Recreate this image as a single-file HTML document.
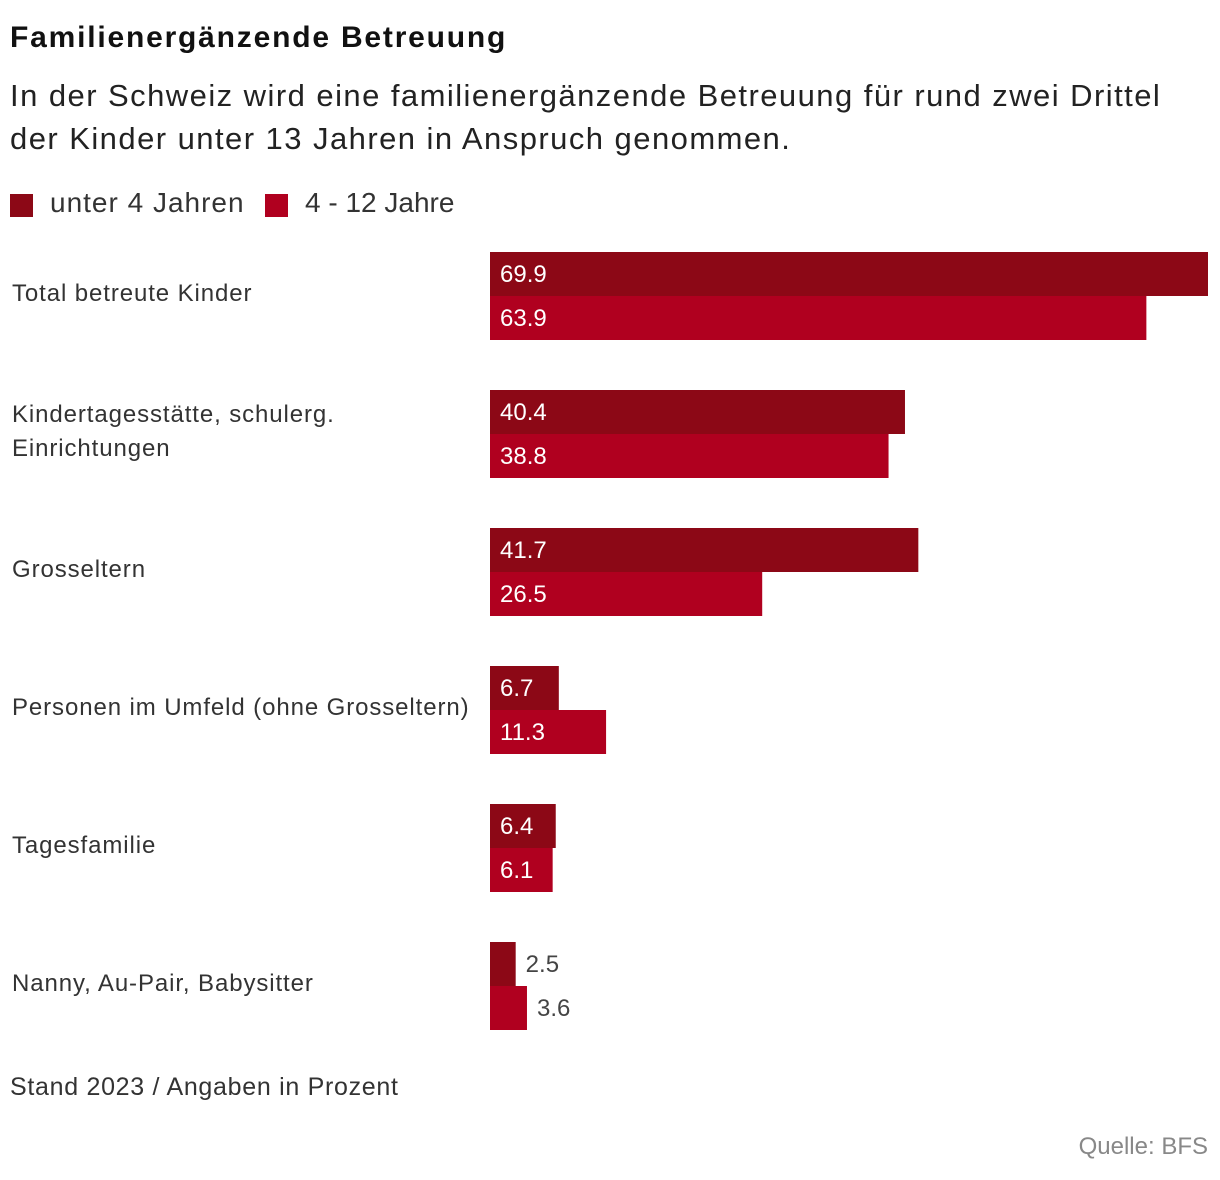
<!DOCTYPE html>
<html><head><meta charset="utf-8"><style>
body{margin:0;width:1220px;height:1180px;background:#fff;font-family:"Liberation Sans",sans-serif;color:#333;position:relative;overflow:hidden}
.t{position:absolute;white-space:nowrap}
</style></head><body>
<div class="t" style="left:10px;top:21px;font-size:30px;font-weight:bold;color:#111;letter-spacing:1.8px">Familienergänzende Betreuung</div>
<div class="t" style="left:10px;top:74px;font-size:31px;line-height:43px;color:#222;letter-spacing:1.45px">In der Schweiz wird eine familienergänzende Betreuung für rund zwei Drittel<br>der Kinder unter 13 Jahren in Anspruch genommen.</div>
<div>
<div style="position:absolute;left:10px;top:194px;width:23px;height:23px;background:#8c0816"></div>
<div class="t" style="left:50px;top:187px;font-size:28px;letter-spacing:1px">unter 4 Jahren</div>
<div style="position:absolute;left:265px;top:194px;width:23px;height:23px;background:#b0001f"></div>
<div class="t" style="left:305px;top:187px;font-size:28px">4 - 12 Jahre</div>
</div>
<svg id="chart" width="1220" height="1180" style="position:absolute;left:0;top:0" font-family="Liberation Sans, sans-serif"></svg>
<div class="t" style="left:10px;top:1073px;font-size:25px;letter-spacing:0.7px">Stand 2023 / Angaben in Prozent</div>
<div class="t" style="right:12px;top:1133px;font-size:24px;color:#888">Quelle: BFS</div>
<script>
const categories=[["Total betreute Kinder"],["Kindertagesstätte, schulerg.","Einrichtungen"],["Grosseltern"],["Personen im Umfeld (ohne Grosseltern)"],["Tagesfamilie"],["Nanny, Au-Pair, Babysitter"]];
const under4=[69.9,40.4,41.7,6.7,6.4,2.5];
const age4to12=[63.9,38.8,26.5,11.3,6.1,3.6];
const svg=document.getElementById('chart');
const NS='http://www.w3.org/2000/svg';
const x0=490,xMax=69.9,xW=718;
const xs=v=>v/xMax*xW;
const y0=252,step=138,bh=44;
function mk(t,a){const e=document.createElementNS(NS,t);for(const k in a)e.setAttribute(k,a[k]);svg.appendChild(e);return e;}
categories.forEach((c,i)=>{
 const gy=y0+i*step;
 const lines=c;
 lines.forEach((ln,j)=>{
  const ty=gy+bh+5-(lines.length-1)*17+j*34;
  const t=mk('text',{x:12,y:ty,'font-size':24,fill:'#333','letter-spacing':0.9});t.textContent=ln;
  
  
 });
 [[under4[i],'#8c0816'],[age4to12[i],'#b0001f']].forEach(([v,col],k)=>{
  const y=gy+k*bh,w=xs(v);
  const r=mk('rect',{x:x0,y:y,width:w,height:bh,fill:col});
  
  
  const inside=w>60;
  const t=mk('text',{x:inside?x0+10:x0+w+10,y:y+bh/2+8,'font-size':24,fill:inside?'#fff':'#444'});
  t.textContent=v.toFixed(1);
  
  
 });
});
</script>
</body></html>
